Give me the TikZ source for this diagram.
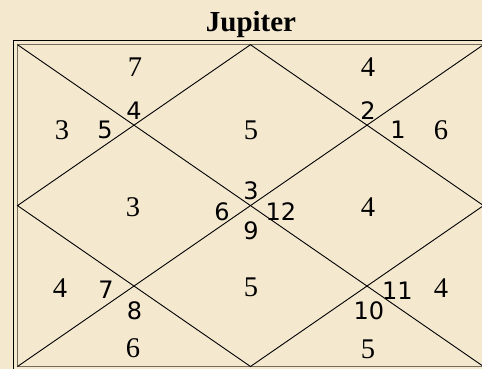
\documentclass[tikz,border=0pt]{standalone}
\usepackage{fontspec}
\setmainfont{Liberation Serif}
\newfontfamily\numsans{DejaVu Sans}
\definecolor{bg}{RGB}{244,232,207}
\definecolor{frameg}{RGB}{118,108,92}
\begin{document}
\begin{tikzpicture}[x=1pt,y=-1pt,
  big/.style={font=\fontsize{28.5}{28.5}\selectfont, inner sep=0pt},
  sml/.style={font=\numsans\fontsize{24}{24}\selectfont, inner sep=0pt},
  ln/.style={line width=0.9pt}]
\fill[bg] (0,0) rectangle (482,369);
\useasboundingbox (0,0) rectangle (482,369);
\node[font=\bfseries\fontsize{29}{29}\selectfont, inner sep=0pt, anchor=base] (title) at (251,31.7) {Jupiter};
\begin{scope}
\clip (0,0) rectangle (482,369);
\draw[line width=1.1pt] (13.3,40.5) rectangle (488,370);
\draw[frameg,line width=1.5pt] (17.5,44.7) rectangle (483.5,366.5);
\coordinate (tl) at (17.5,44.7);
\coordinate (tr) at (483.5,44.7);
\coordinate (bl) at (17.5,366.5);
\coordinate (br) at (483.5,366.5);
\coordinate (tm) at (250.5,44.7);
\coordinate (rm) at (483.5,205.6);
\coordinate (bm) at (250.5,366.5);
\coordinate (lm) at (17.5,205.6);
\draw[ln] (tl) -- (br);
\draw[ln] (tr) -- (bl);
\draw[ln] (tm) -- (rm) -- (bm) -- (lm) -- cycle;
\end{scope}
% big serif numbers
\node[big] (b1) at (135,67) {7};
\node[big] (b2) at (368,67) {4};
\node[big] (b3) at (62,130) {3};
\node[big] (b4) at (251,130) {5};
\node[big] (b5) at (441,130) {6};
\node[big] (b6) at (133,207) {3};
\node[big] (b7) at (368,207) {4};
\node[big] (b8) at (60,288) {4};
\node[big] (b9) at (251,287) {5};
\node[big] (b10) at (441,288) {4};
\node[big] (b11) at (133,348) {6};
\node[big] (b12) at (368,349) {5};
% small sans numbers
\node[sml] (s1) at (134,110.5) {4};
\node[sml] (s2) at (105,130) {5};
\node[sml] (s3) at (368,110.5) {2};
\node[sml] (s4) at (398,130) {1};
\node[sml] (s5) at (251,191) {3};
\node[sml] (s6) at (222,211.5) {6};
\node[sml] (s7) at (281,211.5) {12};
\node[sml] (s8) at (251,230.5) {9};
\node[sml] (s9) at (106,290) {7};
\node[sml] (s10) at (134.5,311) {8};
\node[sml] (s11) at (369,311) {10};
\node[sml] (s12) at (397.5,291) {11};
\end{tikzpicture}
\end{document}
